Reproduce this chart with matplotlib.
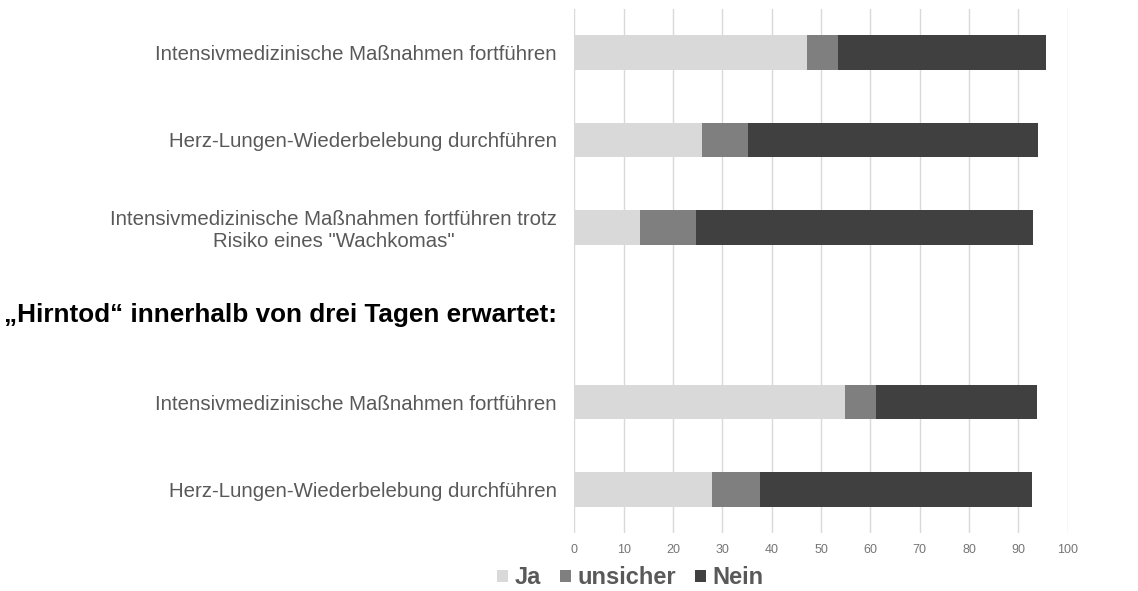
import numpy as np
import matplotlib.pyplot as plt

plt.rcParams['font.family'] = ['Liberation Sans', 'DejaVu Sans']

labels = [
    "Intensivmedizinische Maßnahmen fortführen",
    "Herz-Lungen-Wiederbelebung durchführen",
    "Intensivmedizinische Maßnahmen fortführen trotz\nRisiko eines \"Wachkomas\"",
    "",
    "Intensivmedizinische Maßnahmen fortführen",
    "Herz-Lungen-Wiederbelebung durchführen",
]
header = "„Hirntod“ innerhalb von drei Tagen erwartet:"
header_row = 3

ja = [47.1, 25.9, 13.3, 0, 54.8, 28.0]
unsicher = [6.4, 9.2, 11.3, 0, 6.3, 9.7]
nein = [42.2, 58.8, 68.4, 0, 32.6, 55.1]

series = ["Ja", "unsicher", "Nein"]
colors = ["#d9d9d9", "#7f7f7f", "#404040"]

fig = plt.figure(figsize=(11.38, 5.91), dpi=100)
ax = fig.add_axes([0.5047, 0.0981, 0.4335, 0.8867])

y = np.arange(len(labels))
left = np.zeros(len(labels))
for name, vals, c in zip(series, [ja, unsicher, nein], colors):
    vals = np.array(vals)
    mask = y != header_row
    ax.barh(y[mask], vals[mask], left=left[mask], height=0.4, color=c,
            label=name, zorder=3)
    left += vals

ax.set_xlim(0, 100)
ax.set_ylim(5.5, -0.5)
ax.set_xticks(np.arange(0, 101, 10))
ax.xaxis.grid(True, color="#d9d9d9", linewidth=1, zorder=0)
for s in ax.spines.values():
    s.set_visible(False)
ax.tick_params(axis="x", length=0, labelsize=9, colors="#757575", pad=8)
ax.tick_params(axis="y", length=0, labelsize=14.7, colors="#595959", pad=12.5)
ax.set_yticks(y)
ax.set_yticklabels(labels, multialignment="center")

ax.text(-0.0345, header_row, header, transform=ax.get_yaxis_transform(),
        ha="right", va="center", fontsize=18.8, fontweight="bold", color="black")

leg = fig.legend(loc="center", bbox_to_anchor=(0.554, 0.022), ncol=3, frameon=False,
                 handlelength=0.45, handleheight=0.45, handletextpad=0.3,
                 columnspacing=0.8, prop={"size": 17, "weight": "bold"})
for t in leg.get_texts():
    t.set_color("#595959")

fig.savefig("out.png", dpi=100)
